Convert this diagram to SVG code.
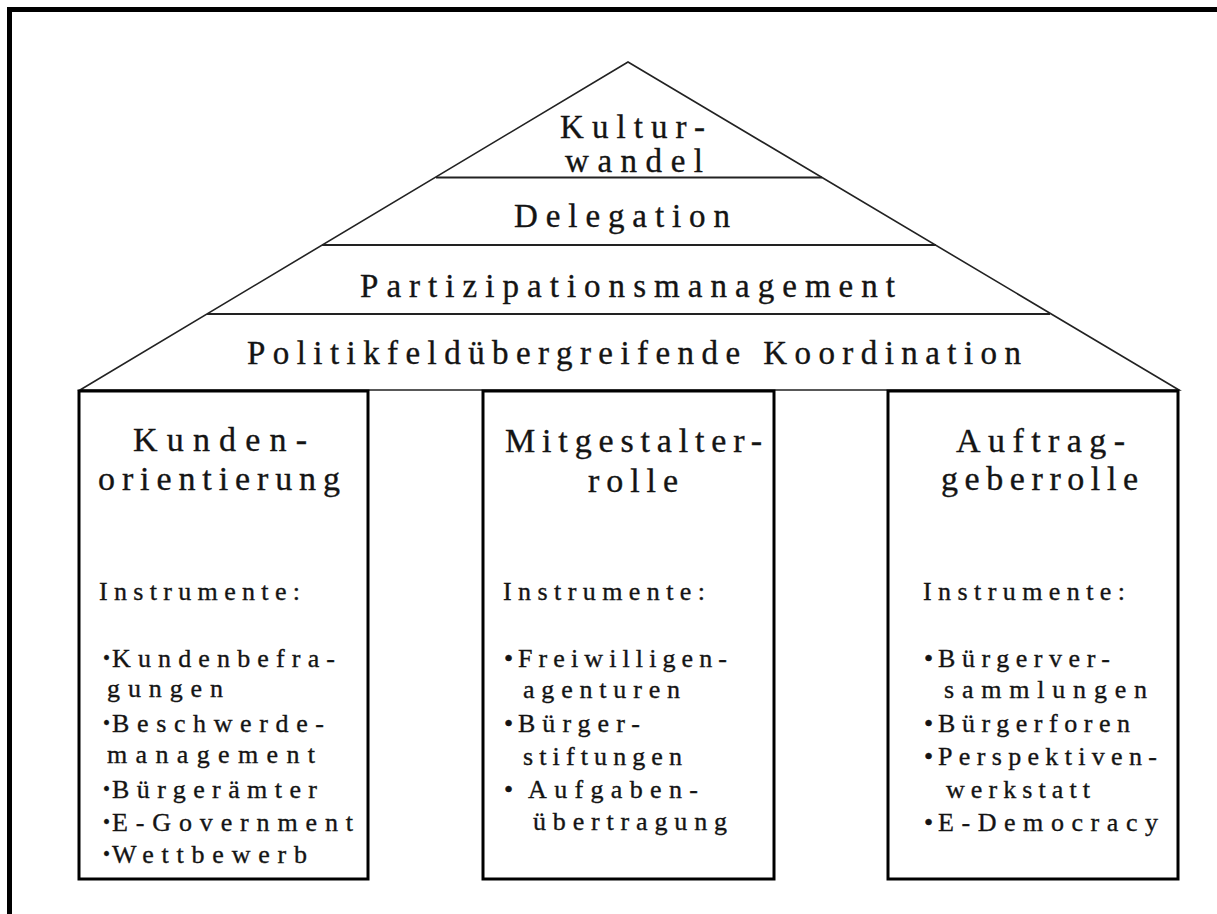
<svg xmlns="http://www.w3.org/2000/svg" width="1217" height="914" viewBox="0 0 1217 914">
<style>
text{font-family:"Liberation Serif","Times New Roman",serif;fill:#141414;stroke:#141414;stroke-width:0.35}
.top{font-size:33px}
.ttl{font-size:34px}
.it{font-size:26px}
.bul{font-size:20px}
.pillar{fill:#fff;stroke:#000;stroke-width:3}
.sep{stroke:#222;stroke-width:2;fill:none}
.roof{fill:#fff;stroke:#222;stroke-width:1.6}
</style>
<rect width="1217" height="914" fill="#fff"/>
<path d="M9.5,914 V9.5 H1217" fill="none" stroke="#000" stroke-width="5"/>
<g id="roof">
<polygon class="roof" points="628,62 80,390 1179,390"/>
<line class="sep" x1="436" y1="177.5" x2="822" y2="177.5"/>
<line class="sep" x1="322" y1="245" x2="936" y2="245"/>
<line class="sep" x1="207" y1="314" x2="1050" y2="314"/>
<text class="top" x="560" y="138" textLength="145" lengthAdjust="spacing">Kultur-</text>
<text class="top" x="565" y="172" textLength="138" lengthAdjust="spacing">wandel</text>
<text class="top" x="514" y="227" textLength="216" lengthAdjust="spacing">Delegation</text>
<text class="top" x="360" y="297" textLength="535" lengthAdjust="spacing">Partizipationsmanagement</text>
<text class="top" x="247" y="364" textLength="774" lengthAdjust="spacing">Politikfeldübergreifende Koordination</text>
</g>
<g id="pillar-kunden">
<rect class="pillar" x="79" y="391" width="289" height="488"/>
<text class="ttl" x="133" y="451" textLength="174" lengthAdjust="spacing">Kunden-</text>
<text class="ttl" x="98" y="490" textLength="242" lengthAdjust="spacing">orientierung</text>
<text class="it" x="99" y="600" textLength="201" lengthAdjust="spacing">Instrumente:</text>
<text class="bul" x="103" y="665">•</text>
<text class="it" x="112" y="667" textLength="223" lengthAdjust="spacing">Kundenbefra-</text>
<text class="it" x="107" y="697" textLength="116" lengthAdjust="spacing">gungen</text>
<text class="bul" x="103" y="730">•</text>
<text class="it" x="112" y="732" textLength="212" lengthAdjust="spacing">Beschwerde-</text>
<text class="it" x="107" y="763" textLength="208" lengthAdjust="spacing">management</text>
<text class="bul" x="103" y="796">•</text>
<text class="it" x="112" y="798" textLength="205" lengthAdjust="spacing">Bürgerämter</text>
<text class="bul" x="103" y="829">•</text>
<text class="it" x="112" y="831" textLength="241" lengthAdjust="spacing">E-Government</text>
<text class="bul" x="103" y="861">•</text>
<text class="it" x="112" y="863" textLength="195" lengthAdjust="spacing">Wettbewerb</text>
</g>
<g id="pillar-mitgestalter">
<rect class="pillar" x="483" y="391" width="291" height="488"/>
<text class="ttl" x="505" y="452" textLength="257" lengthAdjust="spacing">Mitgestalter-</text>
<text class="ttl" x="588" y="492" textLength="90" lengthAdjust="spacing">rolle</text>
<text class="it" x="503" y="600" textLength="202" lengthAdjust="spacing">Instrumente:</text>
<text class="it" x="504" y="667">•</text>
<text class="it" x="518" y="667" textLength="209" lengthAdjust="spacing">Freiwilligen-</text>
<text class="it" x="523" y="698" textLength="157" lengthAdjust="spacing">agenturen</text>
<text class="it" x="504" y="732">•</text>
<text class="it" x="518" y="732" textLength="122" lengthAdjust="spacing">Bürger-</text>
<text class="it" x="523" y="765" textLength="159" lengthAdjust="spacing">stiftungen</text>
<text class="it" x="504" y="798">•</text>
<text class="it" x="528" y="798" textLength="170" lengthAdjust="spacing">Aufgaben-</text>
<text class="it" x="533" y="830" textLength="194" lengthAdjust="spacing">übertragung</text>
</g>
<g id="pillar-auftraggeber">
<rect class="pillar" x="888" y="391" width="290" height="488"/>
<text class="ttl" x="956" y="452" textLength="169" lengthAdjust="spacing">Auftrag-</text>
<text class="ttl" x="941" y="490" textLength="197" lengthAdjust="spacing">geberrolle</text>
<text class="it" x="923" y="600" textLength="202" lengthAdjust="spacing">Instrumente:</text>
<text class="it" x="924" y="667">•</text>
<text class="it" x="938" y="667" textLength="172" lengthAdjust="spacing">Bürgerver-</text>
<text class="it" x="944" y="698" textLength="203" lengthAdjust="spacing">sammlungen</text>
<text class="it" x="924" y="732">•</text>
<text class="it" x="938" y="732" textLength="192" lengthAdjust="spacing">Bürgerforen</text>
<text class="it" x="924" y="765">•</text>
<text class="it" x="938" y="765" textLength="219" lengthAdjust="spacing">Perspektiven-</text>
<text class="it" x="946" y="798" textLength="144" lengthAdjust="spacing">werkstatt</text>
<text class="it" x="924" y="831">•</text>
<text class="it" x="938" y="831" textLength="220" lengthAdjust="spacing">E-Democracy</text>
</g>
<g id="connectors"></g>
</svg>
